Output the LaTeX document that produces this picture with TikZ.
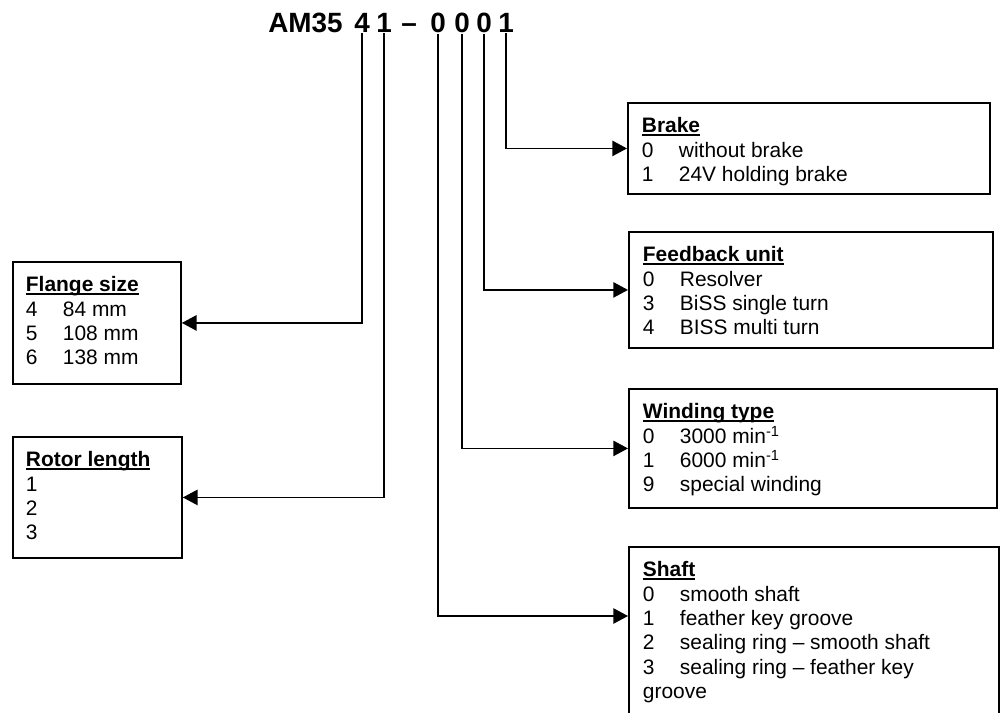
\documentclass[tikz,border=0pt]{standalone}
\usepackage{fontspec}
\setmainfont{Liberation Sans}
\usetikzlibrary{arrows.meta}
\newsavebox{\headbox}
\newcommand{\bodyfont}{\fontsize{15.7pt}{18.2pt}\selectfont}
\newcommand{\headline}[1]{\sbox{\headbox}{\textbf{#1}}\rule{0pt}{22.5pt}\usebox{\headbox}\llap{\rule[-2.4pt]{\wd\headbox}{1.4pt}}}
\newcommand{\optrow}[2]{\makebox[27.75pt][l]{#1}#2}

\begin{document}
\begin{tikzpicture}[x=0.75pt, y=-0.75pt,
    digit/.style={font=\fontsize{20.9pt}{25pt}\selectfont\bfseries, inner sep=0pt, anchor=base},
    legend/.style={draw, line width=1.4pt, anchor=north west, inner xsep=10.5pt, inner ysep=0pt, font=\bodyfont},
    conn/.style={line width=1.1pt, -{Triangle[length=11pt,width=11.5pt]}}]
  \clip (0,0) rectangle (1003,713);
  % Type code
  \node[digit, anchor=base west] (model) at (268,33) {AM35};
  \node[digit] (flangedigit) at (362,33) {4};
  \node[digit] (rotordigit) at (384,33) {1};
  \node[digit] (dash) at (409,33) {--};
  \node[digit] (shaftdigit) at (438,33) {0};
  \node[digit] (windingdigit) at (462,33) {0};
  \node[digit] (feedbackdigit) at (484,33) {0};
  \node[digit] (brakedigit) at (506,33) {1};
  % Left boxes
  \node[legend, inner xsep=9.75pt] (flange) at (12,261) {\parbox[c][91.5pt][t]{106.5pt}{\headline{Flange size}\\
    \optrow{4}{84 mm}\\ \optrow{5}{108 mm}\\ \optrow{6}{138 mm}}};
  \node[legend, inner xsep=9.75pt] (rotor) at (12,436) {\parbox[c][90.75pt][t]{107.25pt}{\headline{Rotor length}\\
    1\\ 2\\ 3}};
  % Right boxes
  \node[legend] (brake) at (627,102) {\parbox[c][68.25pt][t]{250.5pt}{\headline{Brake}\\
    \optrow{0}{without brake}\\ \optrow{1}{24V holding brake}}};
  \node[legend] (feedback) at (628,231) {\parbox[c][87pt][t]{252pt}{\headline{Feedback unit}\\
    \optrow{0}{Resolver}\\ \optrow{3}{BiSS single turn}\\ \optrow{4}{BISS multi turn}}};
  \node[legend] (winding) at (628,388) {\parbox[c][89.25pt][t]{255pt}{\headline{Winding type}\\
    \optrow{0}{3000 min\textsuperscript{-1}}\\ \optrow{1}{6000 min\textsuperscript{-1}}\\ \optrow{9}{special winding}}};
  \node[legend] (shaft) at (628,546) {\parbox[c][150pt][t]{256.5pt}{\headline{Shaft}\\
    \optrow{0}{smooth shaft}\\ \optrow{1}{feather key groove}\\ \optrow{2}{sealing ring -- smooth shaft}\\
    \optrow{3}{sealing ring -- feather key}\\ groove}};
  \path (shaft.north west) ++(0,70) coordinate (shaftin);
  % Connectors
  \draw[conn] (flangedigit.south) |- (flange.east);
  \draw[conn] (rotordigit.south) |- (rotor.east);
  \draw[conn] (shaftdigit.south) |- (shaftin);
  \draw[conn] (windingdigit.south) |- (winding.west);
  \draw[conn] (feedbackdigit.south) |- (feedback.west);
  \draw[conn] (brakedigit.south) |- (brake.west);
\end{tikzpicture}
\end{document}
